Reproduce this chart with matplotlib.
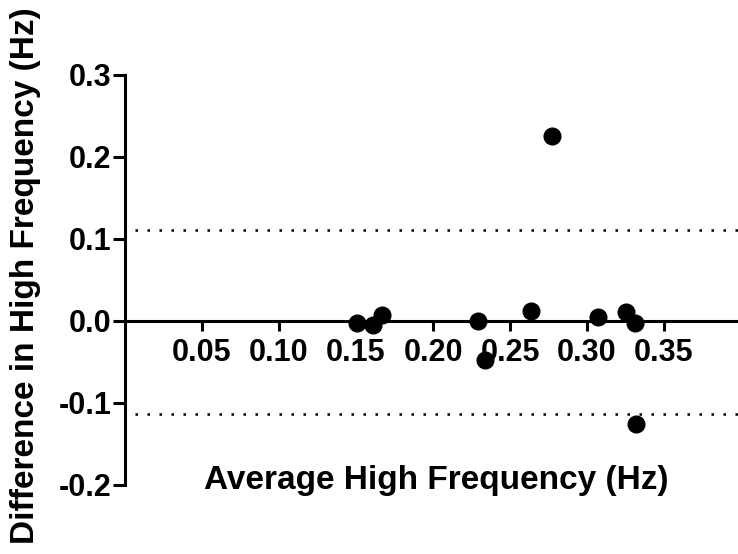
import matplotlib
matplotlib.use("Agg")
import matplotlib.pyplot as plt

# Bland-Altman style data
avg_hf = [0.1504, 0.161, 0.1667, 0.2295, 0.2338, 0.2634, 0.277, 0.3074, 0.325, 0.331, 0.332]
diff_hf = [-0.003, -0.005, 0.007, 0.000, -0.0476, 0.0126, 0.2256, 0.0052, 0.0113, -0.002, -0.125]

upper_loa = 0.111
lower_loa = -0.113

x_ticks = [0.05, 0.10, 0.15, 0.20, 0.25, 0.30, 0.35]
y_ticks = [-0.2, -0.1, 0.0, 0.1, 0.2, 0.3]

plt.rcParams['font.family'] = ['Liberation Sans', 'DejaVu Sans']
plt.rcParams['font.weight'] = 'bold'

W, H = 738, 554
fig = plt.figure(figsize=(W / 100, H / 100), dpi=100)
ax = fig.add_axes([125 / W, (H - 485) / H, (741 - 125) / W, (485 - 75) / H])

ax.set_xlim(0, 0.4)
ax.set_ylim(-0.2, 0.3)

ax.hlines([upper_loa, lower_loa], 0.0065, 0.4, colors='black',
          linestyles=(0, (1, 3.8)), linewidth=1.8)

ax.plot(avg_hf, diff_hf, 'o', color='black', markersize=12, clip_on=False, zorder=5)

for s in ['top', 'right']:
    ax.spines[s].set_visible(False)
ax.spines['left'].set_linewidth(2.2)
ax.spines['bottom'].set_linewidth(2.2)
ax.spines['bottom'].set_position(('data', 0))

ax.set_xticks(x_ticks)
ax.set_xticklabels([f'{v:.2f}' for v in x_ticks])
ax.set_yticks(y_ticks)
ax.set_yticklabels([f'{v:.1f}' for v in y_ticks])

ax.tick_params(axis='y', length=8.6, width=2.2, labelsize=22, pad=1)
ax.tick_params(axis='x', length=7, width=2.2, labelsize=22, pad=5)

fig.text(436 / W, 1 - 480 / H, 'Average High Frequency (Hz)', ha='center', va='center',
         fontsize=24, fontweight='bold')
fig.text(26 / W, 1 - 276 / H, 'Difference in High Frequency (Hz)', ha='center', va='center',
         rotation=90, fontsize=24, fontweight='bold')

fig.savefig('out.png', dpi=100)
